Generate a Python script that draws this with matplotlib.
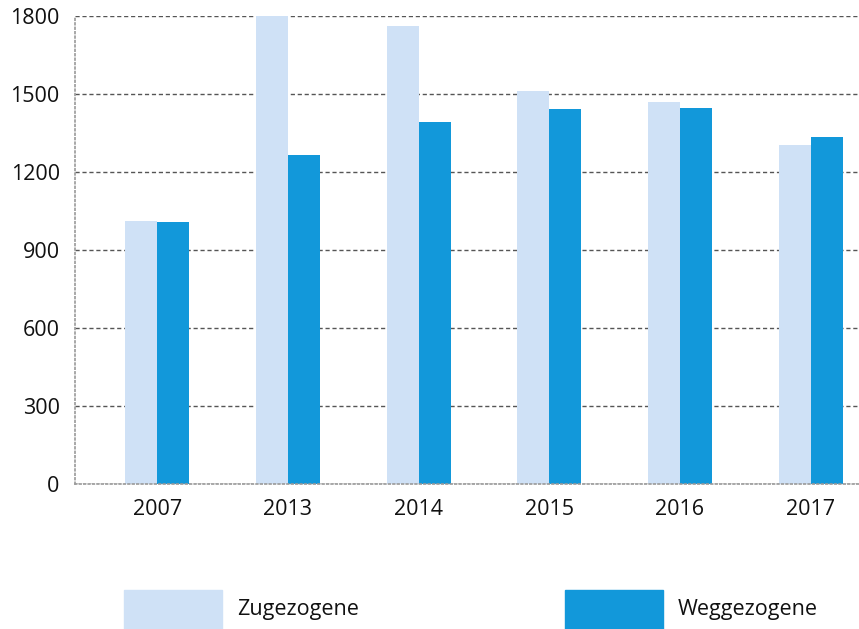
import matplotlib.pyplot as plt
from matplotlib.patches import Rectangle
import numpy as np

plt.rcParams['font.family'] = ['Open Sans', 'DejaVu Sans']

years = ['2007', '2013', '2014', '2015', '2016', '2017']
zugezogene = [1013, 1800, 1763, 1513, 1470, 1305]
weggezogene = [1009, 1267, 1393, 1443, 1447, 1336]

light = '#cfe1f6'
dark = '#1298da'

fig = plt.figure(figsize=(8.59, 6.29), dpi=100)
ax = fig.add_axes([75 / 859, 1 - 484 / 629, 1 - 75 / 859, (484 - 16) / 629])

x = np.arange(len(years))
w = 0.245
ax.bar(x - w / 2, zugezogene, w, color=light, zorder=2)
ax.bar(x + w / 2, weggezogene, w, color=dark, zorder=2)

ax.set_xlim(-0.63, 5.37)
ax.set_ylim(0, 1800)
ax.set_yticks(range(0, 1801, 300))
ax.set_xticks(x)
ax.set_xticklabels(years)
ax.tick_params(length=0, labelsize=15.5, colors='#111111')
ax.tick_params(axis='y', pad=11)
ax.tick_params(axis='x', pad=11)

ax.yaxis.grid(True, color='#555555', linestyle=(0, (3, 2)), linewidth=1, zorder=1)
for s in ['top', 'right']:
    ax.spines[s].set_visible(False)
for s in ['left', 'bottom']:
    ax.spines[s].set_color('#999999')
    ax.spines[s].set_linestyle(':')
    ax.spines[s].set_linewidth(1.2)

# legend drawn by hand
fig.add_artist(Rectangle((124 / 859, 0), 98 / 859, 39 / 629,
                         color=light, transform=fig.transFigure))
fig.add_artist(Rectangle((565 / 859, 0), 98 / 859, 39 / 629,
                         color=dark, transform=fig.transFigure))
fig.text(237 / 859, 1 - 610 / 629, 'Zugezogene', fontsize=15.5, va='center', color='#111111')
fig.text(678 / 859, 1 - 610 / 629, 'Weggezogene', fontsize=15.5, va='center', color='#111111')

fig.savefig('out.png', dpi=100)
